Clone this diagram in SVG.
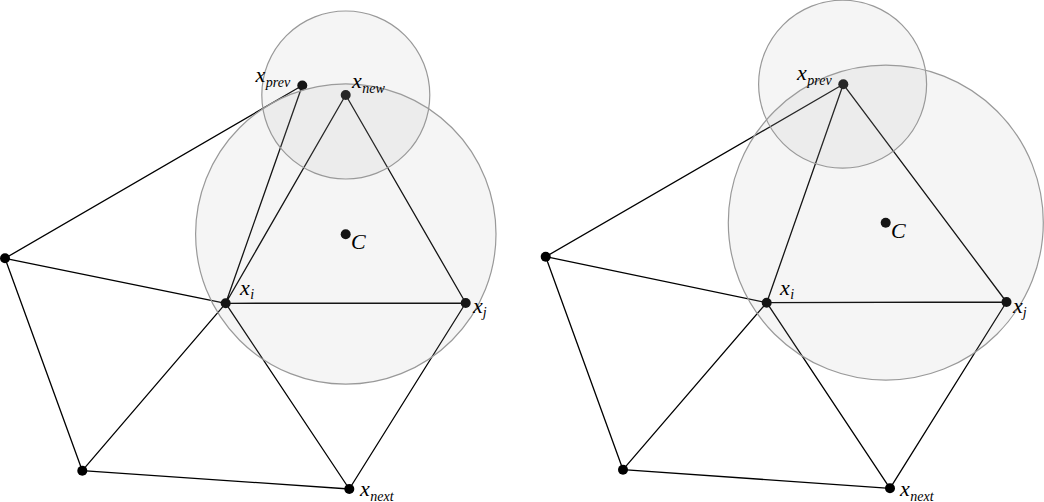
<svg xmlns="http://www.w3.org/2000/svg" width="1044" height="502" viewBox="0 0 1044 502">
<style>
.e{stroke:#000;stroke-width:1.3;fill:none}
.d{fill:#000}
.c{fill:rgb(170,170,170);fill-opacity:0.12;stroke:#999;stroke-width:1.2}
.t{font-family:"Liberation Serif","DejaVu Serif",serif;font-style:italic;font-size:22px;fill:#000}
.s{font-size:14px}
</style>
<rect width="1044" height="502" fill="#fff"/>
<g id="connectors">
<path class="e" d="M5,258.3L302.3,85.5M5,258.3L225.7,303.3M5,258.3L82.3,470.7M82.3,470.7L225.7,303.3M82.3,470.7L349.3,489M225.7,303.3L349.3,489M465.7,303L349.3,489M225.7,303.3L465.7,303M302.3,85.5L225.7,303.3M345.7,95L225.7,303.3M345.7,95L465.7,303"/>
<path class="e" d="M545.7,256.7L843.3,84.3M545.7,256.7L766.7,302.7M545.7,256.7L623,469.7M623,469.7L766.7,302.7M623,469.7L890,488.3M766.7,302.7L890,488.3M1006.5,302L890,488.3M766.7,302.7L1006.5,302M843.3,84.3L766.7,302.7M843.3,84.3L1006.5,302"/>
</g>
<g id="left-outer"><circle class="d" cx="5" cy="258.3" r="5"/></g>
<g id="left-bottom"><circle class="d" cx="82.3" cy="470.7" r="5"/></g>
<g id="left-xnext"><circle class="d" cx="349.3" cy="489" r="5"/></g>
<g id="left-xi"><circle class="d" cx="225.7" cy="303.3" r="5"/></g>
<g id="left-xj"><circle class="d" cx="465.7" cy="303" r="5"/></g>
<g id="left-xprev"><circle class="d" cx="302.3" cy="85.5" r="5"/></g>
<g id="left-xnew"><circle class="d" cx="345.7" cy="95" r="5"/></g>
<g id="left-C"><circle class="d" cx="345.7" cy="234.3" r="5"/></g>
<g id="right-outer"><circle class="d" cx="545.7" cy="256.7" r="5"/></g>
<g id="right-bottom"><circle class="d" cx="623" cy="469.7" r="5"/></g>
<g id="right-xnext"><circle class="d" cx="890" cy="488.3" r="5"/></g>
<g id="right-xi"><circle class="d" cx="766.7" cy="302.7" r="5"/></g>
<g id="right-xj"><circle class="d" cx="1006.5" cy="302" r="5"/></g>
<g id="right-xprev"><circle class="d" cx="843.3" cy="84.3" r="5"/></g>
<g id="right-C"><circle class="d" cx="885.7" cy="222.7" r="5"/></g>
<g id="circles">
<circle class="c" cx="345.8" cy="234" r="150.2"/>
<circle class="c" cx="345.8" cy="95" r="84"/>
<circle class="c" cx="885.8" cy="222.6" r="157.5"/>
<circle class="c" cx="842.6" cy="84.2" r="84"/>
</g>
<g id="labels">
<text class="t" x="255.5" y="82">x<tspan class="s" dx="0.5" dy="5">prev</tspan></text>
<text class="t" x="352" y="88">x<tspan class="s" dx="0.5" dy="5">new</tspan></text>
<text class="t" x="351" y="249">C</text>
<text class="t" x="240" y="295">x<tspan class="s" dx="0.5" dy="4">i</tspan></text>
<text class="t" x="473" y="313">x<tspan class="s" dx="0" dy="4">j</tspan></text>
<text class="t" x="360" y="496">x<tspan class="s" dx="0.5" dy="5">next</tspan></text>
<text class="t" x="797" y="80">x<tspan class="s" dx="0.5" dy="5">prev</tspan></text>
<text class="t" x="891" y="238">C</text>
<text class="t" x="780" y="295">x<tspan class="s" dx="0.5" dy="4">i</tspan></text>
<text class="t" x="1013" y="313">x<tspan class="s" dx="0" dy="4">j</tspan></text>
<text class="t" x="900" y="496">x<tspan class="s" dx="0.5" dy="5">next</tspan></text>
</g>
</svg>
